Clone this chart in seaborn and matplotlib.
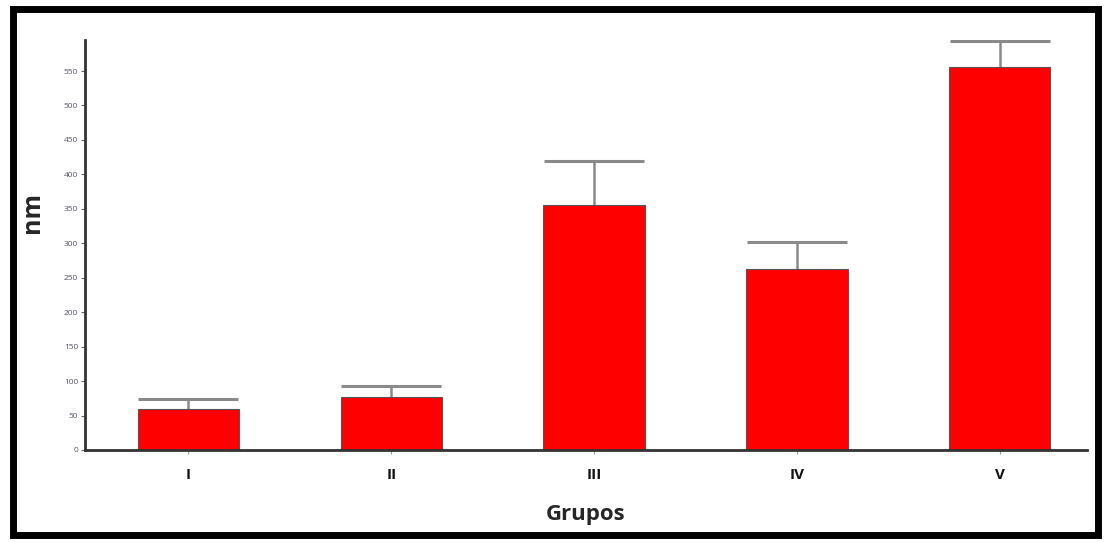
import matplotlib
matplotlib.use("Agg")
import matplotlib.pyplot as plt
import seaborn as sns
import pandas as pd
import numpy as np
from matplotlib.patches import Rectangle

groups = ["I", "II", "III", "IV", "V"]
means = [59, 77, 355, 263, 556]
errors = [15, 16, 65, 39, 37]
yticks = list(range(0, 551, 50))

sns.set_style("white")
plt.rcParams['font.family'] = ['Open Sans', 'DejaVu Sans']

df = pd.DataFrame({"Grupos": groups, "nm": means})

fig = plt.figure(figsize=(11.07, 5.43), dpi=100)
ax = fig.add_axes([85/1107, 1-450/543, (1087-85)/1107, (450-40)/543])

sns.barplot(data=df, x="Grupos", y="nm", color="#ff0000", width=0.5,
            edgecolor="#555555", linewidth=0.8, ax=ax, saturation=1, zorder=2)
eb = ax.errorbar(np.arange(len(groups)), means, yerr=[np.zeros(len(errors)), errors],
                 fmt="none", ecolor="#8a8a8a", elinewidth=1.8, capsize=36, capthick=2.2, zorder=1)
# hide the lower caps (one-sided error bars)
eb[1][0].set_visible(False)

ax.set_xlim(-0.51, 4.43)
ax.set_ylim(0, 595)
ax.set_yticks(yticks)
ax.set_yticklabels([str(v) for v in yticks], fontsize=6, color="#555566")
ax.set_xticks(range(len(groups)))
ax.set_xticklabels(groups, fontsize=11, fontweight="bold", color="#111111")
ax.tick_params(axis="y", length=3, width=0.8, color="#666666", pad=2, left=True)
ax.tick_params(axis="x", length=3, width=0.8, color="#999999", pad=10, bottom=True)

for s in ["top", "right"]:
    ax.spines[s].set_visible(False)
for s in ["left", "bottom"]:
    ax.spines[s].set_color("#333333")
    ax.spines[s].set_linewidth(2)

ax.set_xlabel("Grupos", fontsize=16, fontweight="bold", labelpad=16)
ax.set_ylabel("nm", fontsize=18, fontweight="bold")
ax.yaxis.set_label_coords(-0.04, 0.58)

# outer frame
fig.patches.append(Rectangle((13/1107, 1-535/543), (1098-13)/1107, (535-9)/543,
                             transform=fig.transFigure, fill=False,
                             edgecolor="black", linewidth=5, zorder=10))

fig.savefig("out.png", dpi=100)
